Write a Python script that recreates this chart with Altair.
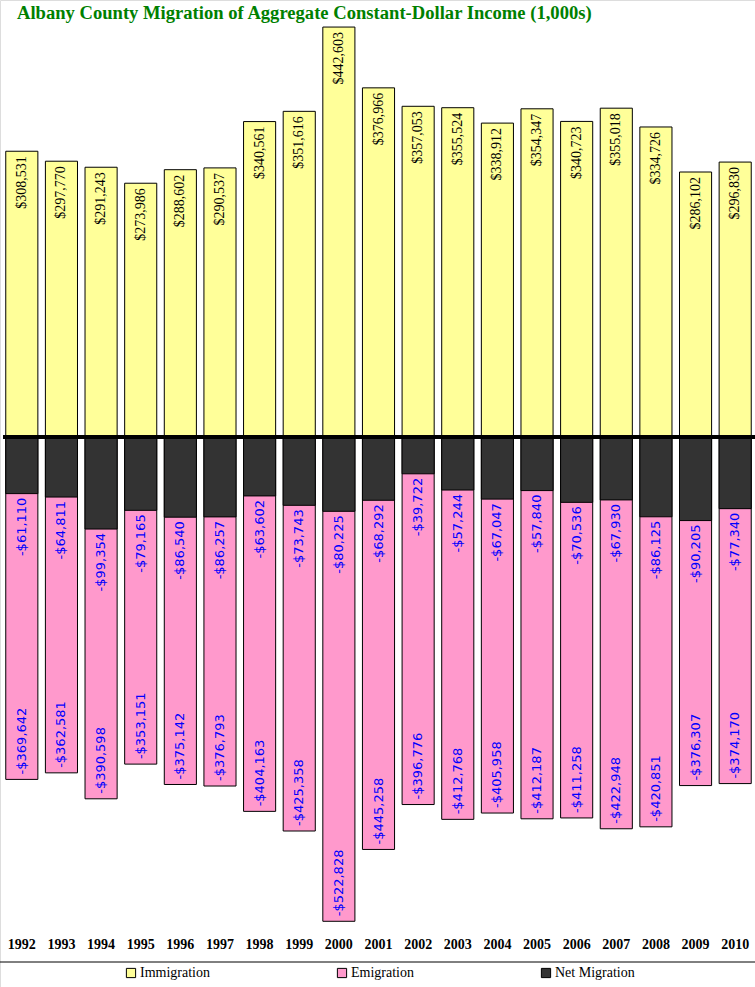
import altair as alt
import pandas as pd

years = [str(y) for y in range(1992, 2011)]
immigration = [308531, 297770, 291243, 273986, 288602, 290537, 340561, 351616, 442603,
               376966, 357053, 355524, 338912, 354347, 340723, 355018, 334726, 286102, 296830]
emigration = [-369642, -362581, -390598, -353151, -375142, -376793, -404163, -425358, -522828,
              -445258, -396776, -412768, -405958, -412187, -411258, -422948, -420851, -376307, -374170]
net_migration = [-61110, -64811, -99354, -79165, -86540, -86257, -63602, -73743, -80225,
                 -68292, -39722, -57244, -67047, -57840, -70536, -67930, -86125, -90205, -77340]

series_names = ["Immigration", "Emigration", "Net Migration"]
series_colors = ["#FFFF99", "#FF99CC", "#333333"]


def fmt(v):
    s = "${:,}".format(abs(v))
    return "-" + s if v < 0 else s


rows = []
for name, vals in zip(series_names, [immigration, emigration, net_migration]):
    for y, v in zip(years, vals):
        rows.append({"year": y, "series": name, "value": v, "label": fmt(v)})
df = pd.DataFrame(rows)

W, H = 755, 987

x_enc = alt.X("year:N", sort=years,
              scale=alt.Scale(range=[2, 755], paddingInner=0.19, paddingOuter=0.095),
              axis=alt.Axis(title=None, orient="bottom", offset=-52, domain=False, ticks=False,
                            labelAngle=0, labelFont="Liberation Serif", labelFontSize=14,
                            labelFontWeight="bold", labelColor="black", labelPadding=2))
y_scale = alt.Scale(domain=[-525000, 450000], range=[923.3, 20.2], nice=False, zero=False)

base = alt.Chart(df)

bars = base.mark_bar(stroke="black", strokeWidth=1).encode(
    x=x_enc,
    y=alt.Y("value:Q", scale=y_scale, axis=None, stack=None),
    y2=alt.datum(0),
    color=alt.Color("series:N",
                    scale=alt.Scale(domain=series_names, range=series_colors),
                    legend=alt.Legend(title=None, orient="none", legendX=124, legendY=966,
                                      direction="horizontal", columnPadding=125,
                                      symbolType="square", symbolSize=85,
                                      symbolStrokeColor="black", symbolStrokeWidth=1,
                                      labelFont="Liberation Serif", labelFontSize=14,
                                      labelColor="black", labelOffset=2)),
)

imm_text = base.transform_filter(alt.datum.series == "Immigration").mark_text(
    angle=270, align="right", baseline="middle", dx=-5,
    font="Liberation Serif", fontSize=14, color="black"
).encode(x=alt.X("year:N", sort=years), y=alt.Y("value:Q", scale=y_scale), text="label:N")

emi_text = base.transform_filter(alt.datum.series == "Emigration").mark_text(
    angle=270, align="left", baseline="middle", dx=5,
    font="DejaVu Sans", fontSize=13, color="#0000FF"
).encode(x=alt.X("year:N", sort=years), y=alt.Y("value:Q", scale=y_scale), text="label:N")

net_text = base.transform_filter(alt.datum.series == "Net Migration").mark_text(
    angle=270, align="right", baseline="middle", dx=-4,
    font="DejaVu Sans", fontSize=13, color="#0000FF"
).encode(x=alt.X("year:N", sort=years), y=alt.Y("value:Q", scale=y_scale), text="label:N")

zero_line = alt.Chart(pd.DataFrame({"z": [0]})).mark_rule(color="black", strokeWidth=4).encode(
    y=alt.Y("z:Q", scale=y_scale), x=alt.value(3), x2=alt.value(755))

sep_line = alt.Chart(pd.DataFrame({"z": [0]})).mark_rule(color="black", strokeWidth=1).encode(
    y=alt.value(962), x=alt.value(0), x2=alt.value(755))

chart = alt.layer(bars, net_text, emi_text, imm_text, zero_line, sep_line).properties(
    width=W, height=H,
    autosize=alt.AutoSizeParams(type="none"),
    padding=0,
    title=alt.TitleParams(
        "Albany County Migration of Aggregate Constant-Dollar Income (1,000s)",
        anchor="start", frame="group", orient="top", offset=0, dx=17, dy=23,
        font="Liberation Serif", fontSize=18.6, fontWeight="bold", color="#008000"),
).configure_view(stroke="black", strokeWidth=3).configure(background="white")

chart.save("out.html", embed_options={"renderer": "svg", "actions": False})
